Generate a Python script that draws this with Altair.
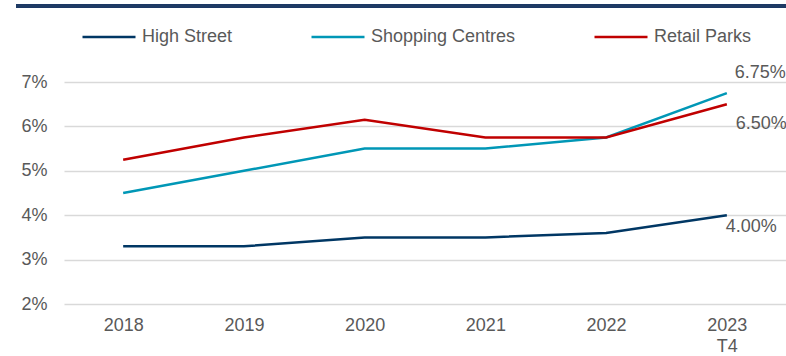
import altair as alt
import pandas as pd

years = ["2018", "2019", "2020", "2021", "2022", "2023 T4"]
high_street = [3.3, 3.3, 3.5, 3.5, 3.6, 4.0]
shopping_centres = [4.5, 5.0, 5.5, 5.5, 5.75, 6.75]
retail_parks = [5.25, 5.75, 6.15, 5.75, 5.75, 6.5]
series_names = ["High Street", "Shopping Centres", "Retail Parks"]
series_colors = ["#003764", "#0097B6", "#C00000"]

rows = []
for name, vals in zip(series_names, [high_street, shopping_centres, retail_parks]):
    for y, v in zip(years, vals):
        rows.append({"year": y, "series": name, "value": v})
df = pd.DataFrame(rows)

FONT = "Liberation Sans"
GRAY = "#595959"

x_enc = alt.X(
    "year:N",
    sort=years,
    scale=alt.Scale(type="point", padding=0.49),
    axis=alt.Axis(
        title=None,
        domain=False,
        ticks=False,
        grid=False,
        labelAngle=0,
        labelFont=FONT,
        labelFontSize=18,
        labelColor=GRAY,
        labelPadding=12,
        labelLineHeight=21,
        labelExpr="datum.value == '2023 T4' ? ['2023', 'T4'] : datum.value",
    ),
)
y_enc = alt.Y(
    "value:Q",
    scale=alt.Scale(domain=[2, 7], nice=False, zero=False),
    axis=alt.Axis(
        title=None,
        values=[2, 3, 4, 5, 6, 7],
        domain=False,
        ticks=False,
        grid=True,
        gridColor="#D9D9D9",
        gridWidth=1.5,
        labelFont=FONT,
        labelFontSize=18,
        labelColor=GRAY,
        labelPadding=17,
        labelExpr="datum.value + '%'",
    ),
)

color_enc = alt.Color(
    "series:N",
    sort=series_names,
    scale=alt.Scale(domain=series_names, range=series_colors),
    legend=alt.Legend(
        title=None,
        orient="none",
        direction="horizontal",
        legendX=17,
        legendY=-73,
        symbolType="stroke",
        symbolSize=2809,
        symbolStrokeWidth=2.5,
        labelFont=FONT,
        labelFontSize=18,
        labelColor=GRAY,
        labelOffset=5,
        columnPadding=73,
        padding=0,
    ),
)

lines = alt.Chart(df).mark_line(strokeWidth=2.5).encode(x=x_enc, y=y_enc, color=color_enc)

label_specs = [("Shopping Centres", 8, -20), ("Retail Parks", 9, 20), ("High Street", -1, 12)]
labels = []
for name, dx, dy in label_specs:
    labels.append(
        alt.Chart(df)
        .transform_filter((alt.datum.series == name) & (alt.datum.year == years[-1]))
        .transform_calculate(label="format(datum.value, '.2f') + '%'")
        .mark_text(align="left", baseline="middle", dx=dx, dy=dy, font=FONT, fontSize=18, color=GRAY)
        .encode(x=alt.X("year:N", sort=years), y="value:Q", text="label:N")
    )

top_rule = alt.Chart(df).mark_rule(color="#1F3B64", strokeWidth=2.5, clip=False).encode(
    x=alt.value(-48), x2=alt.value(730), y=alt.value(-76)
)

chart = (
    alt.layer(top_rule, lines, *labels)
    .properties(
        width=722,
        height=222,
        autosize=alt.AutoSizeParams(type="none"),
        padding={"left": 64, "top": 82, "right": 0, "bottom": 52},
        background="white",
    )
    .configure_view(strokeWidth=0, stroke="transparent")
    .configure_axis(domain=False, ticks=False)
)

chart.save("out.html", embed_options={"renderer": "svg", "actions": False})
